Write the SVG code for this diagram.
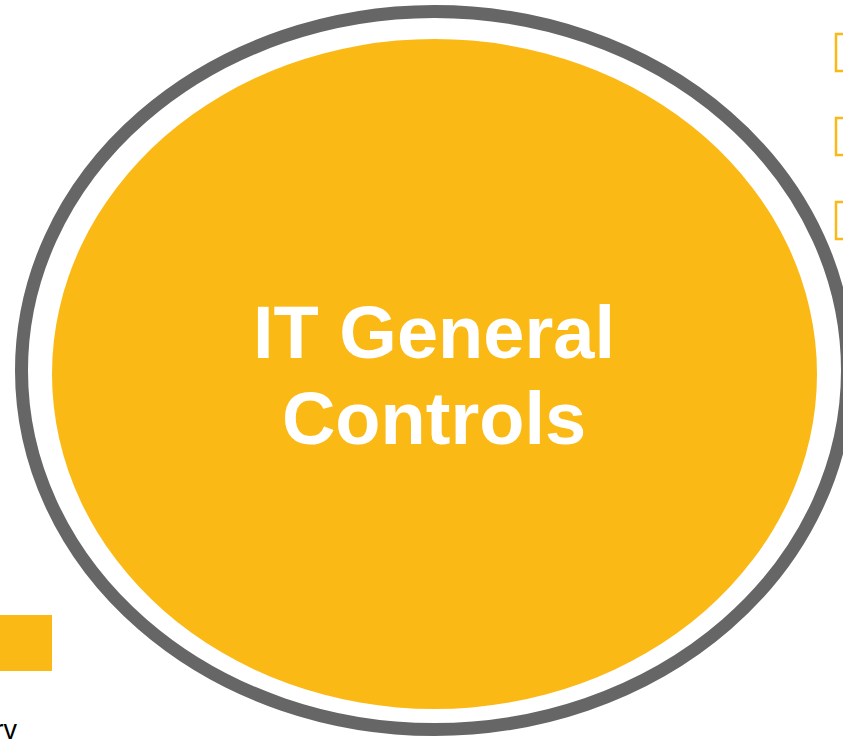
<svg xmlns="http://www.w3.org/2000/svg" width="843" height="741" viewBox="0 0 843 741">
  <style>
    .ring { fill: none; stroke: #666666; stroke-width: 13; }
    .core { fill: #FBB915; }
    .title { font-family: "Liberation Sans", Arial, sans-serif; font-weight: bold; font-size: 74px; fill: #FFFFFF; text-anchor: middle; }
    .tab { fill: none; stroke: #FBB915; stroke-width: 2.5; }
    .note { font-family: "Liberation Sans", Arial, sans-serif; font-size: 27px; fill: #000000; text-anchor: end; }
  </style>
  <rect width="843" height="741" fill="#FFFFFF"/>

  <!-- central element: outer ring with filled core -->
  <g id="it-general-controls">
    <ellipse class="ring" cx="434.5" cy="370.5" rx="413" ry="359"/>
    <ellipse class="core" cx="434.5" cy="374" rx="382.5" ry="335"/>
    <text class="title" x="434" y="358">IT General</text>
    <text class="title" x="434" y="444">Controls</text>
  </g>

  <!-- outlined tabs along the right edge -->
  <g id="tabs">
    <rect class="tab" x="836" y="34" width="20" height="37"/>
    <rect class="tab" x="836" y="118" width="20" height="37"/>
    <rect class="tab" x="836" y="202" width="20" height="37"/>
  </g>

  <!-- legend swatch and caption at the lower left -->
  <g id="legend">
    <rect class="core" x="0" y="615" width="52" height="56"/>
    <text class="note" x="17" y="739">rv</text>
  </g>

  <g id="connectors"/>
</svg>
